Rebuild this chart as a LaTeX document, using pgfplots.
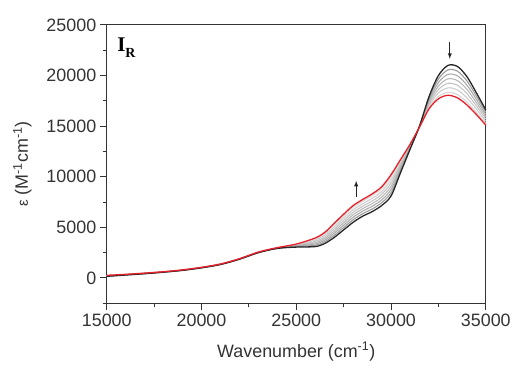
\documentclass[border=0pt]{standalone}
\usepackage{pgfplots}
\pgfplotsset{compat=1.18}
\usepackage{pgfplotstable}
\usepackage{fontspec}
\setmainfont{Liberation Sans}
\newfontfamily\serifb{Liberation Serif}
\definecolor{axgray}{HTML}{333333}
\definecolor{g1}{HTML}{9A9A9A}
\definecolor{g2}{HTML}{ABABAB}
\definecolor{g3}{HTML}{B8B8B8}
\definecolor{g4}{HTML}{C4C4C4}
\definecolor{g5}{HTML}{CECECE}
\definecolor{g6}{HTML}{D6D6D6}
\definecolor{redc}{HTML}{E8202A}
\pgfplotstableread{
X B G1 G2 G3 G4 G5 G6 R
15000 160 175 190 205 220 235 250 260
16000 290 300 311 321 332 342 353 360
17000 420 429 438 447 456 465 474 480
18000 570 577 585 592 600 607 615 620
19000 750 757 765 772 780 787 795 800
20000 1000 1007 1015 1022 1030 1037 1045 1050
21000 1330 1337 1345 1352 1360 1367 1375 1380
22000 1850 1857 1865 1872 1880 1887 1895 1900
23000 2500 2507 2515 2522 2530 2537 2545 2560
24000 2920 2927 2935 2942 2950 2957 2965 3000
25000 3050 3095 3140 3185 3230 3275 3320 3350
26000 3100 3227 3355 3482 3610 3737 3865 3950
26500 3400 3565 3730 3895 4060 4225 4390 4500
27000 4000 4210 4420 4630 4840 5050 5260 5400
27500 4750 4982 5215 5447 5680 5912 6145 6300
28000 5500 5747 5995 6242 6490 6737 6985 7150
28500 6100 6347 6595 6842 7090 7337 7585 7750
29000 6550 6812 7075 7337 7600 7862 8125 8300
29500 7150 7427 7705 7982 8260 8537 8815 9000
30000 8100 8415 8730 9045 9360 9675 9990 10200
30500 10400 10595 10790 10985 11180 11375 11570 11700
31000 12700 12775 12850 12925 13000 13075 13150 13200
31500 15000 14985 14970 14955 14940 14925 14910 14900
32000 17900 17720 17540 17360 17180 17000 16820 16700
32500 20000 19655 19310 18965 18620 18275 17930 17700
33000 21000 20557 20115 19672 19230 18787 18345 18050
33500 20900 20435 19970 19505 19040 18575 18110 17800
34000 19900 19480 19060 18640 18220 17800 17380 17100
34500 18300 17977 17655 17332 17010 16687 16365 16150
35000 16600 16375 16150 15925 15700 15475 15250 15100
}\spec
\begin{document}
\begin{tikzpicture}
\begin{axis}[
  name=ax,
  scale only axis,
  width=380bp, height=279bp,
  xmin=15000, xmax=35000,
  ymin=-2500, ymax=25000,
  xtick={15000,20000,25000,30000,35000},
  ytick={0,5000,10000,15000,20000,25000},
  minor xtick={17500,22500,27500,32500},
  minor ytick={-2500,2500,7500,12500,17500,22500},
  scaled ticks=false,
  /pgf/number format/set thousands separator={},
  /pgf/number format/assume math mode=true,
  tick align=outside,
  xtick pos=left, ytick pos=left,
  major tick length=7bp, minor tick length=4bp,
  axis line style={axgray, line width=0.9pt},
  every tick/.style={axgray, line width=1pt},
  tick label style={font=\fontsize{18}{20}\selectfont, text=axgray},
  label style={font=\fontsize{18}{20}\selectfont, text=axgray},
  xlabel={Wavenumber (cm\textsuperscript{-1})},
  ylabel={{\fontsize{15}{16}\selectfont ε} (M\textsuperscript{-1}cm\textsuperscript{-1})},
  xlabel style={yshift=-9bp},
  ylabel style={yshift=8bp},
  clip=false,
]
\addplot[g6, line width=1.1pt, smooth] table[x=X, y=G6] {\spec};
\addplot[g5, line width=1.1pt, smooth] table[x=X, y=G5] {\spec};
\addplot[g4, line width=1.1pt, smooth] table[x=X, y=G4] {\spec};
\addplot[g3, line width=1.1pt, smooth] table[x=X, y=G3] {\spec};
\addplot[g2, line width=1.1pt, smooth] table[x=X, y=G2] {\spec};
\addplot[g1, line width=1.1pt, smooth] table[x=X, y=G1] {\spec};
\addplot[black!85, line width=1.3pt, smooth] table[x=X, y=B] {\spec};
\addplot[redc, line width=1.3pt, smooth] table[x=X, y=R] {\spec};
\draw[-latex, black!85, line width=0.9pt] (axis cs:33100,23300) -- (axis cs:33100,21650);
\draw[-latex, black!85, line width=0.9pt] (axis cs:28160,7970) -- (axis cs:28160,9600);
\node[anchor=north west, inner sep=0pt] at (axis cs:15550,23700) {\serifb\bfseries\fontsize{21}{22}\selectfont I\raisebox{-0.25em}{\fontsize{14}{15}\selectfont R}};
\end{axis}
\path (ax.south west) ++(-107bp,-64bp) coordinate (bl);
\path (ax.north east) ++(27bp,25bp) coordinate (tr);
\path (bl) rectangle (tr);
\end{tikzpicture}
\end{document}
